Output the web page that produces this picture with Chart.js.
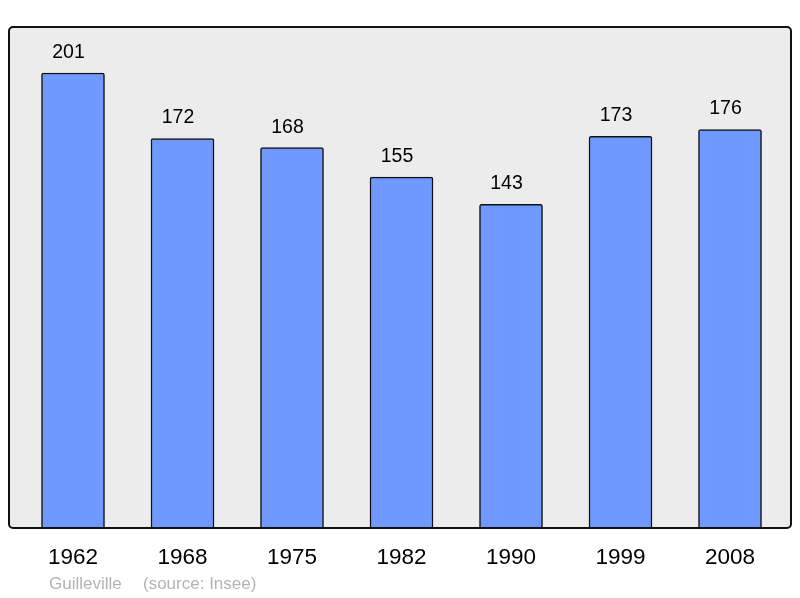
<!DOCTYPE html>
<html>
<head>
<meta charset="utf-8">
<script src="https://cdn.jsdelivr.net/npm/chart.js@4/dist/chart.umd.min.js"></script>
<style>
html,body{margin:0;padding:0;background:#fff;}
#wrap{width:800px;height:598px;}
</style>
</head>
<body>
<div id="wrap"><canvas id="c" width="800" height="598"></canvas></div>
<script>
const years = ["1962","1968","1975","1982","1990","1999","2008"];
const population = [201, 172, 168, 155, 143, 173, 176];
const footerPlace = "Guilleville";
const footerSource = "(source: Insee)";

const points = population.map((v, i) => ({x: i, y: v}));

const framePlugin = {
  id: 'frame',
  beforeDatasetsDraw(chart) {
    const {ctx, chartArea: a} = chart;
    ctx.save();
    ctx.fillStyle = '#ececec';
    ctx.beginPath();
    ctx.roundRect(a.left, a.top, a.right - a.left, a.bottom - a.top, 4);
    ctx.fill();
    ctx.restore();
  },
  afterDatasetsDraw(chart) {
    const {ctx, chartArea: a} = chart;
    ctx.save();
    const meta = chart.getDatasetMeta(0);
    ctx.fillStyle = '#000';
    ctx.font = '19.5px "Liberation Sans", Arial, sans-serif';
    ctx.textAlign = 'center';
    ctx.textBaseline = 'middle';
    meta.data.forEach((bar, i) => {
      ctx.fillText(String(population[i]), bar.x - 4.5, bar.y - 20.5);
    });
    ctx.strokeStyle = '#111';
    ctx.lineWidth = 2;
    ctx.beginPath();
    ctx.roundRect(a.left, a.top, a.right - a.left, a.bottom - a.top, 4);
    ctx.stroke();
    ctx.fillStyle = '#b3b3b3';
    ctx.font = '17px "Liberation Sans", Arial, sans-serif';
    ctx.textAlign = 'left';
    ctx.textBaseline = 'middle';
    ctx.fillText(footerPlace, 49, 584);
    ctx.fillText(footerSource, 143, 584);
    ctx.restore();
  }
};

new Chart(document.getElementById('c'), {
  type: 'bar',
  data: {
    datasets: [{
      data: points,
      backgroundColor: '#7099ff',
      borderColor: '#111',
      borderWidth: 1.5,
      borderRadius: 2,
      borderSkipped: 'bottom',
      barThickness: 63
    }]
  },
  options: {
    responsive: false,
    animation: false,
    devicePixelRatio: 1,
    layout: {padding: {left: 9, right: 9, top: 27, bottom: 0}},
    plugins: {legend: {display: false}, tooltip: {enabled: false}},
    scales: {
      x: {
        type: 'linear',
        offset: false,
        min: -0.5845,
        max: 6.557,
        grid: {display: false, drawTicks: false, offset: false},
        border: {display: false},
        afterFit: (s) => { s.height = 70; },
        ticks: {
          stepSize: 1,
          includeBounds: false,
          autoSkip: false,
          maxRotation: 0,
          padding: 16,
          color: '#000',
          font: {family: '"Liberation Sans", Arial, sans-serif', size: 22.5},
          callback: (v) => (Number.isInteger(v) && years[v] !== undefined) ? years[v] : ''
        }
      },
      y: {
        display: false,
        min: 0,
        max: 221.3
      }
    }
  },
  plugins: [framePlugin]
});
</script>
</body>
</html>
